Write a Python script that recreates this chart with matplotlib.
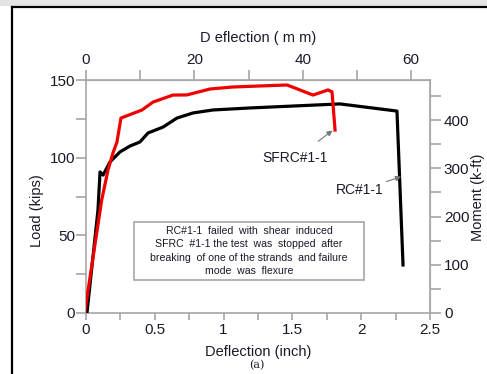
import matplotlib.pyplot as plt
from matplotlib.patches import Rectangle
from matplotlib import font_manager

# data (deflection in inch, load in kips)
rc_defl = [0.007, 0.087, 0.102, 0.124, 0.174, 0.247, 0.320, 0.392, 0.451, 0.560,
           0.661, 0.778, 0.923, 1.192, 1.846, 2.260, 2.304]
rc_load = [0, 66.3, 90.8, 88.8, 97.2, 103.7, 107.5, 110.1, 115.9, 119.7,
           125.5, 128.8, 130.7, 132.0, 134.6, 130.0, 30.9]

sfrc_defl = [-0.01, 0.114, 0.160, 0.196, 0.225, 0.254, 0.407, 0.487, 0.632, 0.734,
             0.901, 1.068, 1.461, 1.650, 1.759, 1.788, 1.810]
sfrc_load = [0, 72.7, 92.1, 103.0, 110.1, 125.5, 130.7, 135.8, 140.3, 140.4,
             144.2, 145.5, 146.8, 140.3, 143.6, 142.3, 117.8]

note_lines = ["RC#1-1  failed  with  shear  induced",
              "SFRC  #1-1 the test  was  stopped  after",
              "breaking  of one of the strands  and failure",
              "mode  was  flexure"]

MM = 25.4
KFT = 3.22  # k-ft per kip

names = {f.name for f in font_manager.fontManager.ttflist}
narrow = 'Liberation Sans Narrow' if 'Liberation Sans Narrow' in names else 'Liberation Sans'
plt.rcParams['font.family'] = ['Liberation Sans', 'DejaVu Sans']

grey = '#a6a6a6'
txt = '#1a1a2a'

fig = plt.figure(figsize=(4.87, 3.74), dpi=100)
ax = fig.add_axes([86/487, 1-313/374, 344/487, 233/374])

ax.plot(rc_defl, rc_load, color='black', lw=2.3, solid_joinstyle='round', zorder=3)
ax.plot(sfrc_defl, sfrc_load, color='#ee0000', lw=2.3, solid_joinstyle='round', zorder=4)

ax.set_xlim(0, 2.5)
ax.set_ylim(0, 150)
ax.set_xticks([0, 0.5, 1, 1.5, 2, 2.5])
ax.set_xticklabels(['0', '0.5', '1', '1.5', '2', '2.5'])
ax.set_xticks([0.25, 0.75, 1.25, 1.75, 2.25], minor=True)
ax.set_yticks([0, 50, 100, 150])
ax.set_yticks([25, 75, 125], minor=True)

for s in ax.spines.values():
    s.set_color(grey)
    s.set_linewidth(1.2)
ax.tick_params(which='both', axis='y', direction='out', length=7, width=1.2, color=grey,
               labelsize=11, labelcolor=txt, pad=1)
ax.tick_params(which='both', axis='x', direction='out', length=5, width=1.2, color=grey,
               labelsize=11, labelcolor=txt, pad=2)

ax.set_xlabel('Deflection (inch)', fontsize=10.5, color=txt, labelpad=6)
ax.set_ylabel('Load (kips)', fontsize=10.5, color=txt)
ax.yaxis.set_label_coords(-0.122, 0.44)

top = ax.secondary_xaxis('top', functions=(lambda x: x * MM, lambda m: m / MM))
top.set_xticks([0, 20, 40, 60])
top.set_xticks([10, 30, 50], minor=True)
top.spines['top'].set_color(grey)
top.tick_params(which='both', direction='out', length=7, width=1.2, color=grey,
                labelsize=11, labelcolor=txt, pad=2)
top.set_xlabel('D eflection ( m m)', fontsize=10.5, color=txt, labelpad=8)

right = ax.secondary_yaxis('right', functions=(lambda y: y * KFT, lambda m: m / KFT))
right.set_yticks([0, 100, 200, 300, 400])
right.set_yticks([50, 150, 250, 350, 450], minor=True)
right.spines['right'].set_color(grey)
right.tick_params(which='both', direction='out', length=8, width=1.2, color=grey,
                  labelsize=11, labelcolor=txt, pad=2)

fig.text(478/487, 1-197/374, 'Moment (k-ft)', rotation=90, fontsize=10.5, color=txt,
         ha='center', va='center')

# curve labels
ax.annotate('SFRC#1-1', xy=(1.80, 118), xytext=(1.52, 99.5), fontsize=10, color=txt,
            ha='center', va='center',
            arrowprops=dict(arrowstyle='-|>', color='#777777', lw=0.8,
                            mutation_scale=8, shrinkA=9, shrinkB=1))
ax.annotate('RC#1-1', xy=(2.30, 88), xytext=(1.99, 79), fontsize=10, color=txt,
            ha='center', va='center',
            arrowprops=dict(arrowstyle='-|>', color='#777777', lw=0.8,
                            mutation_scale=8, shrinkA=22, shrinkB=1))

# note box
box_x0, box_x1 = (134-86)/137.6, (364-86)/137.6
box_y0, box_y1 = (313-280)*150/233, (313-222)*150/233
ax.add_patch(Rectangle((box_x0, box_y0), box_x1-box_x0, box_y1-box_y0,
                       fill=False, edgecolor=grey, lw=1.2, zorder=2))
ax.text((box_x0+box_x1)/2, (box_y0+box_y1)/2, '\n'.join(note_lines), family=narrow,
        fontsize=7.6, color=txt, ha='center', va='center', linespacing=1.45)

fig.text(257/487, 1-365/374, '(a)', family='DejaVu Serif', fontsize=8, color=txt,
         ha='center', va='center')

# outer page frame
fig.add_artist(Rectangle((0, 1-6/374), 1, 6/374, transform=fig.transFigure,
                         facecolor='#e4e4e4', edgecolor='none'))
fig.add_artist(plt.Line2D([12/487, 1], [1-7/374, 1-7/374], transform=fig.transFigure,
                          color='black', lw=1.6))
fig.add_artist(plt.Line2D([12/487, 12/487], [0, 1-7/374], transform=fig.transFigure,
                          color='black', lw=1.6))

fig.savefig('out.png', dpi=100)
